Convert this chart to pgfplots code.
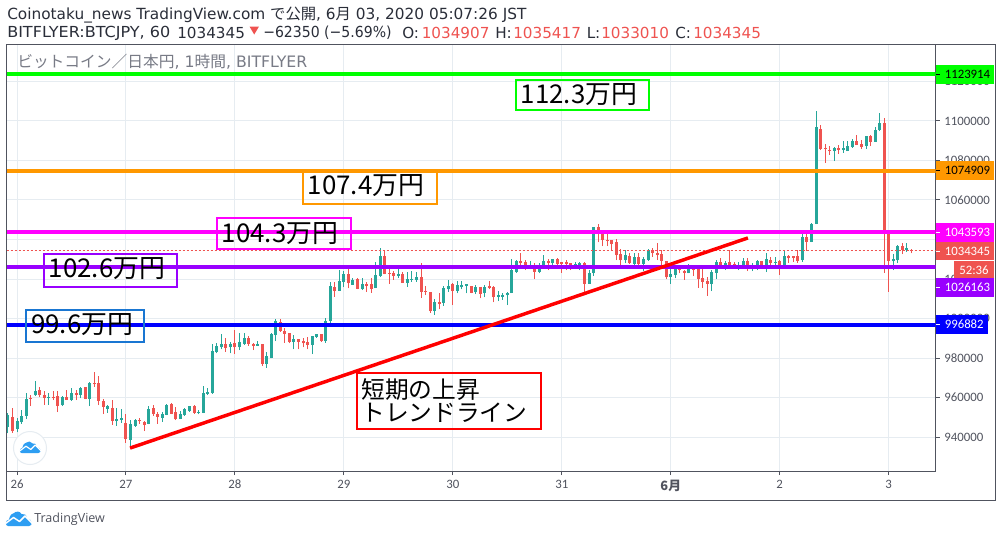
\documentclass[border=0pt]{standalone}
\usepackage{pgfplots}
\usepackage{pgfplotstable}
\usepackage{fontspec}
\pgfplotsset{compat=1.18}
\setmainfont{DejaVu Sans}
\newfontfamily\cjk{Noto Sans CJK JP}
\newfontfamily\axf{Carlito}
\newfontfamily\tvf{Open Sans}
\definecolor{tvup}{HTML}{26A69A}
\definecolor{tvdn}{HTML}{EF5350}
\definecolor{tvgrid}{HTML}{E6ECF1}
\definecolor{tvax}{HTML}{50535E}
\definecolor{lgreen}{HTML}{00FF00}
\definecolor{lorange}{HTML}{FF9800}
\definecolor{lmag}{HTML}{FF00FF}
\definecolor{lpur}{HTML}{9900FF}
\definecolor{lblue}{HTML}{0000FF}
\definecolor{bblue}{HTML}{1976D2}
\definecolor{lred}{HTML}{FF0000}
\definecolor{tvlogo}{HTML}{2E9EF2}
\definecolor{hdr}{HTML}{2A2E39}
\definecolor{lgd}{HTML}{787B86}

\pgfplotstableread{
i o h l c
-2 945200 952000 941800 951100
0 944000 949400 942300 948100
1 947400 953700 946600 950600
2 950800 962400 949100 959200
4 961200 968200 960900 963300
7 959900 962400 956400 960200
10 956200 960700 955700 960200
12 958700 964600 958400 962300
14 961200 965500 959600 964800
16 959200 967700 955700 967300
20 954300 956200 952300 955800
22 948100 954800 945600 949100
23 948800 954200 947200 949600
25 938500 948600 935600 946600
26 945600 949100 945200 948600
29 946700 955800 946400 954000
32 949800 952600 947700 951800
33 951300 956500 951000 956200
36 949300 953100 949100 951800
37 951100 954500 950800 954200
38 953300 955800 952800 955700
40 952300 953700 951500 952600
41 952300 965600 952100 962100
42 961800 965000 961200 962800
43 962300 987100 961800 983500
44 983000 987400 982300 986200
45 985400 992100 984400 987100
47 985400 988300 982300 987100
49 985400 992500 984000 988300
50 987100 992800 986600 990300
53 986200 988800 986100 986900
55 976900 983200 975100 981000
56 979800 992800 979800 992100
57 991600 999600 988600 998700
61 988100 991600 984400 989600
65 986600 991100 982000 991100
66 990800 992100 990300 992100
68 988400 1000100 987700 998700
69 998700 1018600 997500 1016600
71 1014100 1024500 1013900 1019000
72 1018600 1024200 1015800 1022500
74 1017100 1020700 1017000 1019500
76 1014900 1020300 1014400 1017600
79 1015400 1028800 1015400 1022000
80 1021700 1035500 1021200 1031600
84 1021700 1025000 1020700 1022500
86 1018100 1023400 1016100 1020000
87 1019500 1024000 1018600 1020000
88 1019500 1023700 1018600 1021000
92 1004000 1009900 1001800 1008300
94 1008000 1016400 1006500 1015300
95 1014800 1019500 1013600 1016400
97 1013900 1019000 1012700 1017000
98 1015800 1019100 1014800 1017000
99 1016400 1017500 1012700 1017500
101 1013400 1017000 1012400 1015900
103 1012700 1017000 1010700 1016100
106 1010900 1013900 1008800 1011900
107 1011000 1013100 1009400 1012100
108 1011700 1013600 1006800 1012900
109 1012900 1029900 1012900 1024500
110 1023700 1029600 1023200 1029100
113 1025900 1029100 1024900 1027100
115 1023500 1027900 1022900 1027100
116 1026200 1032100 1026200 1029100
118 1027900 1030100 1026200 1029900
123 1026200 1028800 1025400 1027600
124 1026200 1028800 1024500 1028300
126 1017500 1024500 1017500 1023200
127 1023200 1046200 1021500 1046200
134 1029600 1034700 1027900 1032100
136 1027600 1033000 1026200 1031300
138 1027600 1031300 1024200 1030100
139 1029800 1035000 1029300 1034800
144 1021000 1026200 1017500 1022500
145 1022000 1026200 1020300 1025100
148 1023000 1027600 1022900 1025100
153 1017500 1024500 1013900 1023500
154 1023200 1029600 1020000 1028800
156 1026900 1029300 1024500 1028300
159 1026200 1028800 1024500 1026700
160 1027100 1030500 1025900 1029100
162 1025900 1027900 1024000 1027100
163 1026200 1029600 1024500 1029100
165 1026200 1033300 1023500 1030100
167 1028300 1031000 1026600 1028600
169 1027100 1034300 1026200 1031600
173 1029600 1042800 1028800 1041300
175 1038900 1048200 1038700 1047800
176 1047800 1105000 1047800 1096900
180 1084800 1086700 1079700 1086300
182 1085300 1089900 1084000 1086300
183 1084800 1089900 1084800 1087300
184 1086800 1090700 1086500 1089700
187 1087300 1092400 1085800 1092400
189 1089500 1096800 1089400 1095400
190 1095400 1104000 1094900 1099000
193 1029100 1032600 1024500 1030100
194 1029600 1037200 1027900 1036700
196 1034700 1038000 1033800 1035700
}\uptab

\pgfplotstableread{
i o h l c
-1 950100 954800 942200 943000
3 959900 961100 955700 959400
5 963800 965300 960100 961200
6 961200 963300 956400 959900
8 960100 963400 958700 959700
9 960600 963400 952600 955700
11 960200 963600 958700 958900
13 962100 963800 958700 961200
15 965300 965500 959100 959200
17 967200 972700 965500 966700
18 967300 970900 956200 958400
19 958200 959100 951600 955200
21 954700 958700 946100 948100
24 947100 951500 937100 938800
27 948400 949400 946600 947900
28 947600 948100 943000 946100
30 954800 956000 950800 951600
31 951800 952500 946600 950300
34 956500 957000 951600 951800
35 952800 955300 948600 948900
39 955800 956200 951800 952300
46 987100 990100 983200 985000
48 987400 994200 982000 985400
51 990300 991100 986100 987100
52 987100 987700 984000 986200
54 987100 987100 975900 976900
58 998400 999700 993300 993800
59 993500 995000 987700 992300
60 992600 992800 987400 988100
62 989600 989600 984400 988300
63 988400 990300 985400 987400
64 988100 990400 984400 986700
67 992100 992100 988300 988600
70 1015900 1018600 1011000 1013900
73 1022500 1025400 1015300 1017800
75 1020000 1020700 1014800 1015100
77 1017500 1018600 1013600 1016400
78 1017500 1020300 1013100 1014900
81 1031600 1034700 1022300 1022500
82 1023000 1026200 1017500 1022700
83 1023000 1024200 1019500 1021700
85 1022500 1023700 1018100 1018100
89 1021000 1027900 1010500 1013600
90 1013900 1016400 1011900 1013600
91 1013400 1013600 1002900 1003800
93 1008300 1012700 1004600 1007300
96 1017500 1017800 1006800 1013900
100 1016400 1016600 1012700 1013100
102 1015900 1016100 1010200 1012400
104 1016400 1019100 1014900 1015600
105 1015800 1016400 1008200 1010700
111 1029100 1033000 1026200 1027900
112 1028600 1029600 1024500 1026200
114 1026200 1027900 1020000 1023700
117 1029100 1029900 1024500 1027900
119 1029900 1030500 1026200 1027400
120 1028400 1028800 1023200 1027400
121 1028400 1029600 1024500 1027400
122 1027900 1028300 1024500 1025400
125 1028300 1028800 1013200 1017500
128 1046200 1047800 1038600 1044800
129 1042800 1043100 1036700 1039700
130 1039900 1042800 1036700 1039200
131 1039700 1039700 1034700 1037500
132 1038900 1040100 1029600 1032100
133 1032600 1035000 1027100 1029600
135 1031800 1033000 1027600 1027900
137 1031300 1033000 1027100 1027600
140 1034500 1035500 1031300 1033300
141 1033300 1038000 1029600 1032100
142 1032600 1034700 1025400 1029300
143 1029100 1029300 1019800 1020800
146 1025100 1026200 1022900 1024500
147 1024000 1024500 1019500 1023200
149 1025100 1027100 1021500 1024700
150 1025200 1026200 1015600 1020200
151 1020300 1025400 1015600 1018600
152 1019000 1021200 1011400 1017500
155 1028800 1030800 1025900 1026900
157 1028600 1034700 1025400 1026200
158 1027600 1028800 1025400 1026600
161 1029100 1030500 1024000 1025900
164 1029100 1029100 1026600 1026900
166 1029600 1031300 1027100 1028100
168 1029100 1029600 1022000 1026700
170 1031600 1032100 1028300 1030600
171 1031500 1031600 1028800 1030800
172 1031600 1034700 1028300 1029100
174 1041300 1043100 1034300 1038900
177 1095900 1098000 1085300 1085600
178 1086100 1088300 1078900 1085800
179 1085300 1087300 1082800 1084800
181 1086300 1087800 1083300 1085300
185 1089700 1092900 1087800 1087800
186 1088300 1090400 1085800 1086800
188 1092400 1092900 1087300 1089400
191 1099000 1101500 1023200 1043100
192 1043100 1043100 1013600 1029300
195 1036700 1038000 1032600 1034700
197 1034907 1035417 1033010 1034345
}\dntab

\newcommand{\cloud}[3]{% x, y, scale
  \begin{scope}[shift={(#1,#2)},scale=#3]
    \fill[tvlogo] (2,15) .. controls (-1,15) and (-1,9) .. (3,8.5)
      .. controls (4,4) and (6,2) .. (8,2) .. controls (10,0) and (14,0) .. (15.5,3)
      .. controls (18,2) and (21,4) .. (21,7.5) .. controls (27,8) and (27,15) .. (23,15) -- cycle;
    \draw[white,line width=#3*1.1pt,line join=round] (-0.5,12.5) -- (7.5,6.5) -- (13.5,10.5) -- (19,5) -- (26.5,12.5);
  \end{scope}}

\begin{document}
\begin{tikzpicture}
\path[use as bounding box,fill=white] (0,0) rectangle (751.5pt,-402.75pt);
\begin{axis}[
  at={(4.875pt,-353.25pt)}, anchor=south west,
  scale only axis, width=696.75pt, height=320.25pt,
  xmin=-2.313, xmax=202.31, ymin=922786, ymax=1138976,
  axis line style={color=tvax,line width=0.75pt},
  grid=major, major grid style={color=tvgrid,line width=0.75pt},
  tick style={color=tvax,line width=0.75pt},
  tick align=outside, major tick length=3pt,
  xtick={0,24,48,72,96,120,144,168,192},
  xticklabels={26,27,28,29,30,31,{\cjk\bfseries 6月},2,3},
  xtick pos=bottom,
  xticklabel style={font=\axf\fontsize{9.6}{11}\selectfont,text=tvax,inner sep=0pt,yshift=-3.5pt},
  scaled y ticks=false,
  ytick={940000,960000,980000,1000000,1020000,1040000,1060000,1080000,1100000,1120000},
  yticklabels={940000,960000,980000,1000000,1020000,1040000,1060000,1080000,1100000,1120000},
  ytick pos=right, yticklabel pos=right,
  yticklabel style={font=\axf\fontsize{9.6}{11}\selectfont,text=tvax,inner sep=0pt,anchor=west,xshift=3.4pt},
]
% wicks
\addplot[draw=none,mark=none,forget plot,error bars/.cd,y dir=plus,y explicit,error mark=none,
  error bar style={draw=tvup,line width=0.75pt}]
  table[x=i,y=l,y error plus expr=\thisrow{h}-\thisrow{l}] {\uptab};
\addplot[draw=none,mark=none,forget plot,error bars/.cd,y dir=plus,y explicit,error mark=none,
  error bar style={draw=tvdn,line width=0.75pt}]
  table[x=i,y=l,y error plus expr=\thisrow{h}-\thisrow{l}] {\dntab};
% bodies
\addplot[draw=none,mark=none,forget plot,error bars/.cd,y dir=plus,y explicit,error mark=none,
  error bar style={draw=tvup,line width=2.25pt}]
  table[x=i,y=o,y error plus expr=\thisrow{c}-\thisrow{o}] {\uptab};
\addplot[draw=none,mark=none,forget plot,error bars/.cd,y dir=plus,y explicit,error mark=none,
  error bar style={draw=tvdn,line width=2.25pt}]
  table[x=i,y=c,y error plus expr=\thisrow{o}-\thisrow{c}] {\dntab};
% last price
\addplot[tvdn,line width=0.75pt,dash pattern=on 1.5pt off 1.5pt,forget plot] coordinates {(-2.313,1034345) (202.31,1034345)};
% horizontal levels
\addplot[lgreen,line width=3pt,forget plot] coordinates {(-2.313,1123914) (202.31,1123914)};
\addplot[lorange,line width=3pt,forget plot] coordinates {(-2.313,1074909) (202.31,1074909)};
\addplot[lmag,line width=3pt,forget plot] coordinates {(-2.313,1043593) (202.31,1043593)};
\addplot[lpur,line width=3pt,forget plot] coordinates {(-2.313,1026163) (202.31,1026163)};
\addplot[lblue,line width=3pt,forget plot] coordinates {(-2.313,996882) (202.31,996882)};
% trend line
\addplot[lred,line width=2.6pt,forget plot] coordinates {(24.9,934400) (161.0,1040800)};
\end{axis}
\begin{scope}[x=0.75pt,y=-0.75pt]
% outer frame
\draw[tvax,line width=0.75pt] (6.5,44) rectangle (995.5,500);
% header
\node[anchor=west,inner sep=0pt,font=\fontsize{11.5}{13}\selectfont,text=hdr] at (7,15.5) {Coinotaku\_news TradingView.com {\cjk で公開}, 6{\cjk 月} 03, 2020 05:07:26 JST};
\node[anchor=west,inner sep=0pt,font=\fontsize{11.4}{13}\selectfont,text=hdr] at (7,33) {\scalebox{1.055}[1]{BITFLYER:BTCJPY, 60}};
\node[anchor=west,inner sep=0pt,font=\fontsize{11.4}{13}\selectfont,text=hdr] at (177,33) {1034345};
\fill[tvdn] (249.5,26.5) -- (259,26.5) -- (254.2,34.5) -- cycle;
\node[anchor=west,inner sep=0pt,font=\fontsize{11.4}{13}\selectfont,text=hdr] at (263,33) {\scalebox{0.925}[1]{−62350 (−5.69\%)}};
\foreach \xa/\la/\xb/\vb in {402/O:/421.5/1034907,495/H:/513/1035417,586.5/L:/601/1033010,675/C:/693/1034345}{
  \node[anchor=west,inner sep=0pt,font=\fontsize{11.4}{13}\selectfont,text=hdr] at (\xa,33) {\la};
  \node[anchor=west,inner sep=0pt,font=\fontsize{11.4}{13}\selectfont,text=tvdn] at (\xb,33) {\vb};
}
% legend
\node[anchor=west,inner sep=0pt,font=\fontsize{11.8}{13}\selectfont,text=lgd] at (17,62) {{\cjk ビットコイン／日本円}, 1{\cjk 時間}, BITFLYER};
% price labels
\foreach \x/\a/\b/\c/\t/\tc/\mc in {
 994/65/83.5/lgreen/1123914/black/black,
 994/161/180/lorange/1074909/black/black,
 994/223/242/lmag/1043593/white/white,
 994/242/260/tvdn/1034345/white/white,
 994/278/297/lpur/1026163/white/white,
 988/315/334/lblue/996882/white/white}{
  \fill[\c] (935.5,\a) rectangle (\x,\b);
  \pgfmathsetmacro{\m}{(\a+\b)/2}
  \draw[\mc,line width=0.75pt] (935.5,\m) -- (939.5,\m);
  \node[anchor=west,inner sep=0pt,font=\axf\fontsize{9.6}{11}\selectfont,text=\tc] at (944.5,\m) {\t};
}
\fill[tvdn] (954,261) rectangle (994,277.5);
\node[inner sep=0pt,font=\axf\fontsize{9.6}{11}\selectfont,text=white] at (974,270.5) {52:36};
% boxes
\draw[lgreen,line width=1.5pt] (516,80) rectangle (649,110);
\node[anchor=west,inner sep=0pt,font=\cjk\fontsize{19.4}{22}\selectfont] at (520.5,95) {112.3万円};
\draw[lorange,line width=1.5pt] (303,171) rectangle (437,204);
\node[anchor=west,inner sep=0pt,font=\cjk\fontsize{19.4}{22}\selectfont] at (307.5,186) {107.4万円};
\draw[lmag,line width=1.5pt] (217,218) rectangle (351,249);
\node[anchor=west,inner sep=0pt,font=\cjk\fontsize{19.4}{22}\selectfont] at (221.5,234) {104.3万円};
\draw[lpur,line width=1.5pt] (44,254) rectangle (177,287);
\node[anchor=west,inner sep=0pt,font=\cjk\fontsize{19.4}{22}\selectfont] at (48.5,269) {102.6万円};
\draw[bblue,line width=1.5pt] (26,310) rectangle (144,342);
\node[anchor=west,inner sep=0pt,font=\cjk\fontsize{19.4}{22}\selectfont] at (31,325) {99.6万円};
\draw[lred,line width=1.5pt] (357,373) rectangle (541,429);
\node[anchor=west,inner sep=0pt,font=\cjk\fontsize{17.8}{22}\selectfont] at (361,390) {短期の上昇};
\node[anchor=west,inner sep=0pt,font=\cjk\fontsize{17.8}{22}\selectfont] at (361,413) {トレンドライン};
% logos
\fill[white] (30,448) circle (16.5);
\draw[tvgrid,line width=0.75pt] (30,448) circle (16.5);
\cloud{20}{441}{0.8}
\cloud{6}{511}{1}
\node[anchor=west,inner sep=0pt,font=\tvf\fontsize{9.4}{11}\selectfont,text=tvax] at (34,519) {TradingView};
\end{scope}
\end{tikzpicture}
\end{document}
